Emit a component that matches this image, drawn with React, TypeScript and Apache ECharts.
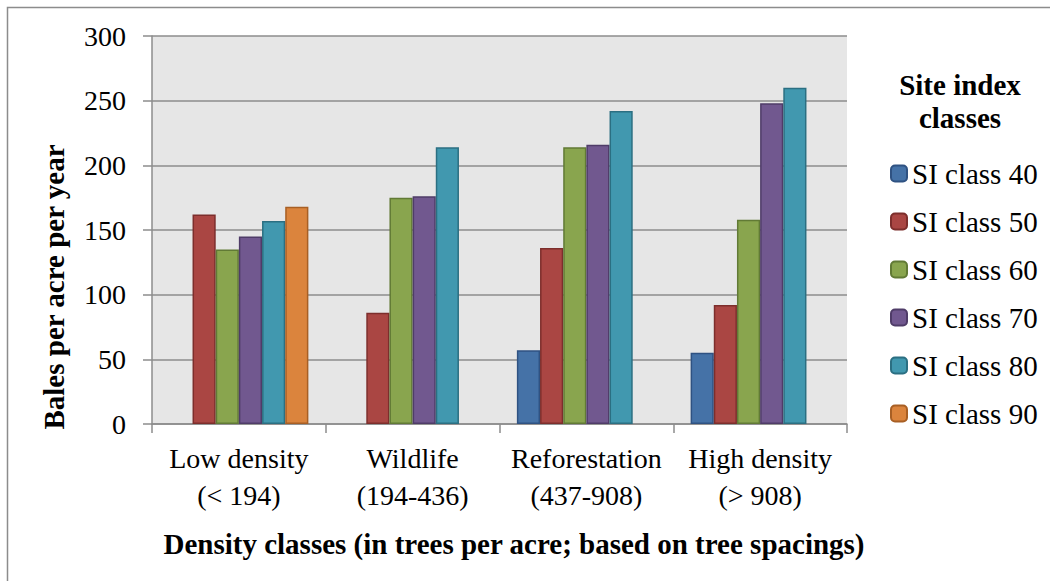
import React, { useEffect, useRef } from "react";
import * as echarts from "echarts";

const categories = ["Low density\n(< 194)", "Wildlife\n(194-436)", "Reforestation\n(437-908)", "High density\n(> 908)"];
const seriesNames = ["SI class 40", "SI class 50", "SI class 60", "SI class 70", "SI class 80", "SI class 90"];
const si40 = [null, null, 57, 55];
const si50 = [162, 86, 136, 92];
const si60 = [135, 175, 214, 158];
const si70 = [145, 176, 216, 248];
const si80 = [157, 214, 242, 260];
const si90 = [168, null, null, null];
const yTicks = [0, 50, 100, 150, 200, 250, 300];
const yTitle = "Bales per acre per year";
const xTitle = "Density classes (in trees per acre; based on tree spacings)";
const legendTitle = "Site index\nclasses";

const fills = ["#4572a7", "#aa4643", "#89a54e", "#71588f", "#4198af", "#db843d"];
const borders = ["#2f5282", "#7d2e2c", "#617a35", "#4f3c68", "#2b6f82", "#a85f24"];

const FONT = "Liberation Serif";

export default function App() {
  const ref = useRef<HTMLDivElement>(null);
  useEffect(() => {
    if (!ref.current) return;
    const chart = echarts.init(ref.current, undefined, { renderer: "svg" });
    const data = [si40, si50, si60, si70, si80, si90];
    chart.setOption({
      animation: false,
      textStyle: { fontFamily: FONT },
      grid: {
        left: 152,
        right: 203,
        top: 36,
        bottom: 157,
        show: true,
        backgroundColor: "#e6e6e6",
        borderWidth: 0,
      },
      legend: {
        orient: "vertical",
        left: 885,
        top: 154,
        itemWidth: 16,
        itemHeight: 16,
        itemGap: 19,
        textStyle: { fontFamily: FONT, fontSize: 29, lineHeight: 29, color: "#000" },
        data: seriesNames,
      },
      xAxis: {
        type: "category",
        data: categories,
        axisLine: { lineStyle: { color: "#8c8c8c", width: 1.5 } },
        axisTick: { show: true, length: 9, lineStyle: { color: "#8c8c8c", width: 1.5 } },
        axisLabel: { fontFamily: FONT, fontSize: 28, color: "#000", margin: 16, lineHeight: 37, interval: 0 },
      },
      yAxis: {
        type: "value",
        min: yTicks[0],
        max: yTicks[yTicks.length - 1],
        interval: 50,
        axisLine: { show: true, lineStyle: { color: "#8c8c8c", width: 1.5 } },
        axisTick: { show: true, length: 9, lineStyle: { color: "#8c8c8c", width: 1.5 } },
        axisLabel: { fontFamily: FONT, fontSize: 28, color: "#000", margin: 26 },
        splitLine: { lineStyle: { color: "#8c8c8c", width: 1.5 } },
      },
      series: seriesNames.map((name, i) => ({
        name,
        type: "bar",
        data: data[i],
        barGap: "0%",
        barCategoryGap: "20%",
        itemStyle: { color: fills[i], borderColor: borders[i], borderWidth: 1.5 },
      })),
      graphic: [
        {
          type: "rect",
          shape: { x: 7.5, y: 7.5, width: 1100, height: 700 },
          style: { fill: "none", stroke: "#8c8c8c", lineWidth: 1.5 },
          silent: true,
        },
        {
          type: "text",
          x: 54,
          y: 287,
          rotation: Math.PI / 2,
          style: {
            text: yTitle,
            fontFamily: FONT,
            fontSize: 29,
            fontWeight: "bold",
            fill: "#000",
            align: "center",
            verticalAlign: "middle",
          },
        },
        {
          type: "text",
          x: 960,
          y: 101,
          style: {
            text: legendTitle,
            fontFamily: FONT,
            fontSize: 29,
            fontWeight: "bold",
            fill: "#000",
            align: "center",
            verticalAlign: "middle",
            lineHeight: 33,
          },
        },
        {
          type: "text",
          x: 514,
          y: 544,
          style: {
            text: xTitle,
            fontFamily: FONT,
            fontSize: 29,
            fontWeight: "bold",
            fill: "#000",
            align: "center",
            verticalAlign: "middle",
          },
        },
      ],
    });
    return () => chart.dispose();
  }, []);
  return (
    <div
      ref={ref}
      style={{ position: "absolute", left: 0, top: 0, width: 1050, height: 581, background: "#fff" }}
    />
  );
}
